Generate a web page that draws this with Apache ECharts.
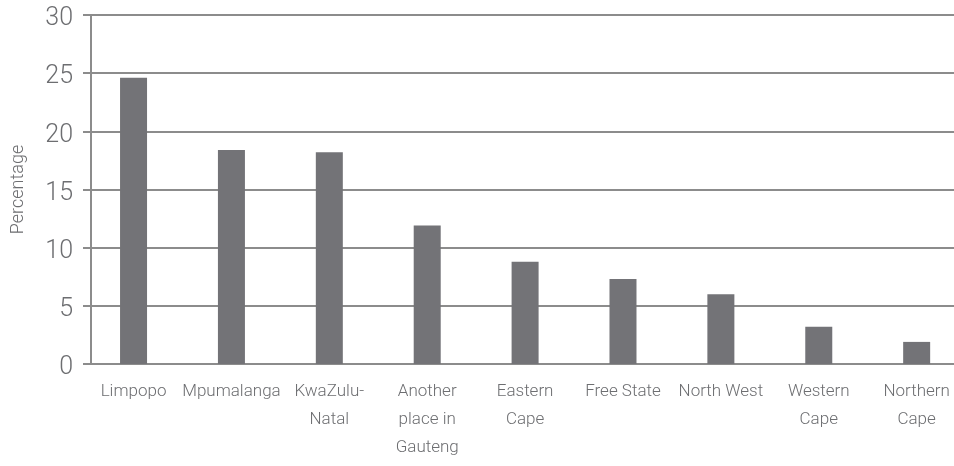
<!DOCTYPE html>
<html>
<head>
<meta charset="utf-8">
<script src="https://cdn.jsdelivr.net/npm/echarts@6/dist/echarts.min.js"></script>
<style>html,body{margin:0;padding:0;background:#fff;}#c{width:954px;height:466px;}</style>
</head>
<body>
<div id="c"></div>
<script>
var categories = ["Limpopo", "Mpumalanga", "KwaZulu-\nNatal", "Another\nplace in\nGauteng", "Eastern\nCape", "Free State", "North West", "Western\nCape", "Northern\nCape"];
var values = [24.6, 18.4, 18.2, 11.9, 8.8, 7.3, 6.0, 3.2, 1.9];
var yTicks = [0, 5, 10, 15, 20, 25, 30];

var FONT = 'Roboto, "Liberation Sans", sans-serif';
var TXT = '#6d6e71';
var LINE = '#8c8c8c';
var chart = echarts.init(document.getElementById('c'));
chart.setOption({
  animation: false,
  grid: { left: 84.6, width: 881, top: 15, bottom: 102, containLabel: false, outerBoundsMode: 'none' },
  xAxis: {
    type: 'category',
    data: categories,
    axisLine: { show: true, lineStyle: { color: LINE, width: 2 } },
    axisTick: { show: false },
    axisLabel: { interval: 0, color: TXT, fontFamily: FONT, fontSize: 17, fontWeight: 300, lineHeight: 28, margin: 14 }
  },
  yAxis: {
    type: 'value',
    min: yTicks[0], max: yTicks[yTicks.length - 1], interval: 5,
    offset: -6.4,
    name: 'Percentage',
    nameLocation: 'middle',
    nameRotate: 90,
    nameGap: 64,
    nameTextStyle: { color: TXT, fontFamily: FONT, fontSize: 18, fontWeight: 300 },
    axisLine: { show: true, lineStyle: { color: LINE, width: 2 } },
    axisTick: { show: true, length: 8, lineStyle: { color: LINE, width: 2 } },
    axisLabel: {
      margin: 18,
      formatter: function (v) { return '{t|' + v + '}'; },
      rich: { t: { color: TXT, fontFamily: FONT, fontSize: 25, fontWeight: 300, padding: [8, 0, 0, 0] } }
    },
    splitLine: { show: true, lineStyle: { color: LINE, width: 2 } }
  },
  series: [{
    type: 'bar',
    data: values,
    barWidth: 27,
    itemStyle: { color: '#737377' }
  }]
});
</script>
</body>
</html>
